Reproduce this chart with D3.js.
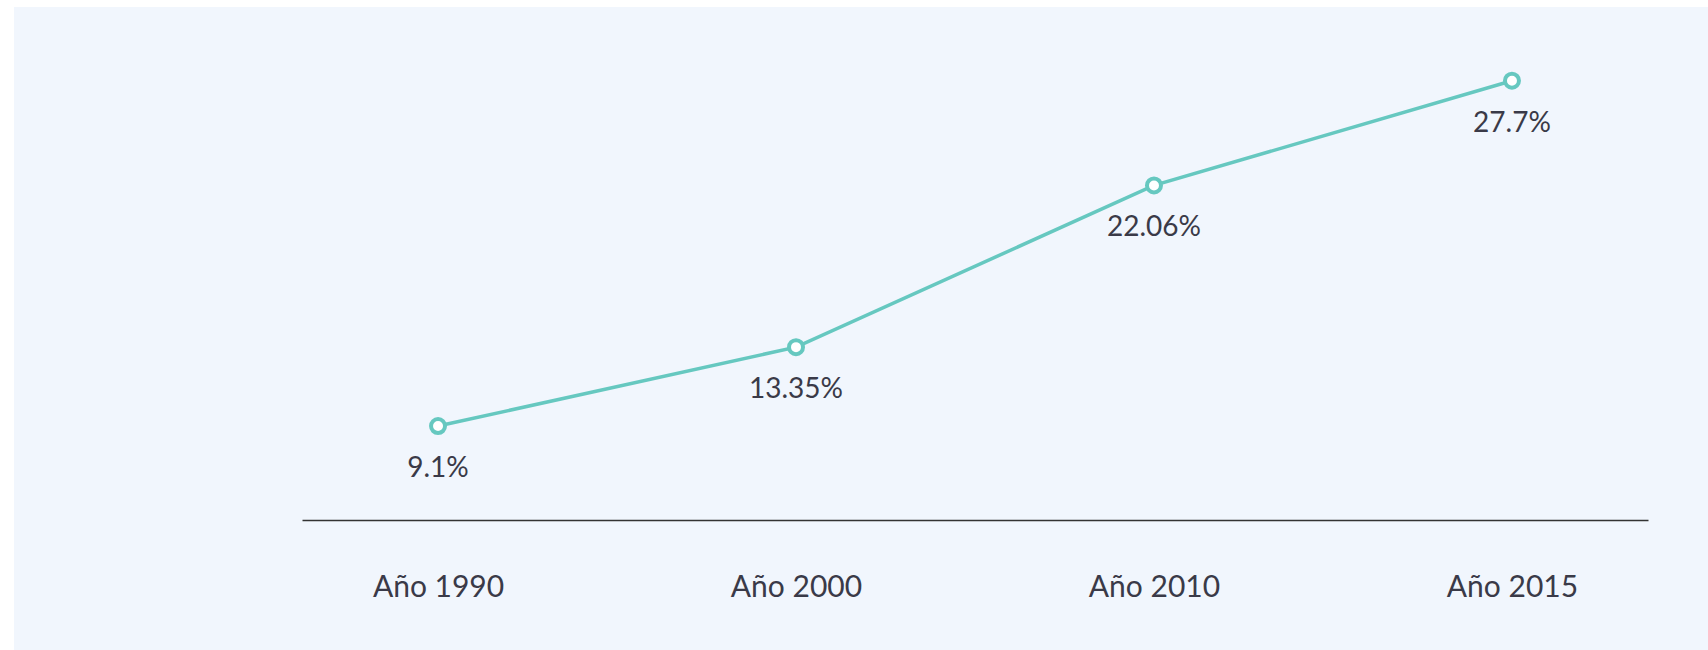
<!DOCTYPE html>
<html>
<head>
<meta charset="utf-8">
<script src="https://cdn.jsdelivr.net/npm/d3@7"></script>
<style>
    body { margin: 0; background: #ffffff; }
    svg { display: block; }
</style>
</head>
<body>
<svg id="canvas" width="1708" height="650"></svg>
<script>
const years = ["Año 1990", "Año 2000", "Año 2010", "Año 2015"];
const values = [9.1, 13.35, 22.06, 27.7];
const valueLabels = ["9.1%", "13.35%", "22.06%", "27.7%"];

const svg = d3.select("#canvas");
const ancho = 1708;
const alto = 650;

// fondo
svg.append("rect")
    .attr("x", 14)
    .attr("y", 7)
    .attr("width", ancho - 14)
    .attr("height", alto - 7)
    .attr("fill", "#f1f6fd");

const x = d3.scalePoint()
    .domain(years)
    .range([302, 1648])
    .padding(0.38);

const y = d3.scaleLinear()
    .domain([0, 30])
    .range([595, 38]);

const baseY = 520;

// eje
const axis = svg.append("g")
    .attr("transform", `translate(0,${baseY})`)
    .call(d3.axisBottom(x).tickSize(0).tickPadding(56));

axis.select(".domain")
    .attr("stroke", "#333333")
    .attr("stroke-width", 1.5);

axis.selectAll("text")
    .attr("fill", "#3a3a48")
    .style("font-family", "Lato, 'Open Sans', sans-serif")
    .style("font-size", "30px");

const datos = years.map((d, i) => ({ year: d, value: values[i], label: valueLabels[i] }));

// línea
svg.append("path")
    .datum(datos)
    .attr("fill", "none")
    .attr("stroke", "#66c8c0")
    .attr("stroke-width", 3.5)
    .attr("d", d3.line().x(d => x(d.year)).y(d => y(d.value)));

// puntos
svg.selectAll("circle.punto")
    .data(datos)
    .join("circle")
    .attr("class", "punto")
    .attr("cx", d => x(d.year))
    .attr("cy", d => y(d.value))
    .attr("r", 7)
    .attr("fill", "#ffffff")
    .attr("stroke", "#66c8c0")
    .attr("stroke-width", 4);

// etiquetas
svg.selectAll("text.valor")
    .data(datos)
    .join("text")
    .attr("class", "valor")
    .attr("x", d => x(d.year))
    .attr("y", d => y(d.value) + 51)
    .attr("text-anchor", "middle")
    .attr("fill", "#3a3a48")
    .style("font-family", "Lato, 'Open Sans', sans-serif")
    .style("font-size", "28px")
    .text(d => d.label);
</script>
</body>
</html>
